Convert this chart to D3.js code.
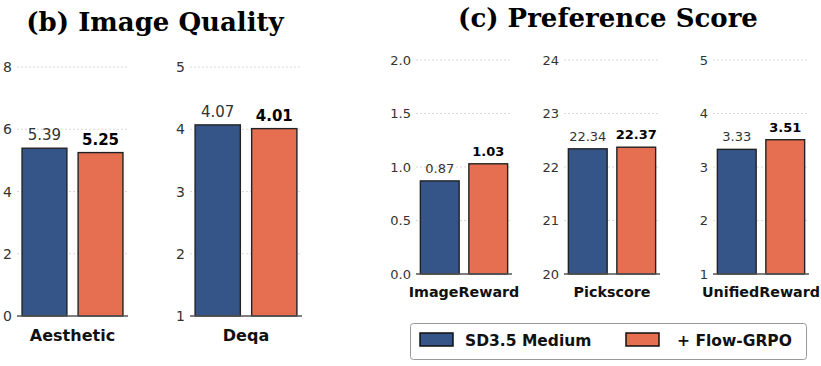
<!DOCTYPE html>
<html><head><meta charset="utf-8">
<script src="https://cdn.jsdelivr.net/npm/d3@7"></script>
<style>body{margin:0;background:#fff}svg{display:block}</style>
</head><body>
<svg id="c" width="821" height="366"></svg>
<script>
// ---- data ----
const categories = ["Aesthetic", "Deqa", "ImageReward", "Pickscore", "UnifiedReward"];
const seriesNames = ["SD3.5 Medium", "+ Flow-GRPO"];
const sd35Values = [5.39, 4.07, 0.87, 22.34, 3.33];
const flowValues = [5.25, 4.01, 1.03, 22.37, 3.51];
const yDomains = [[0, 8], [1, 5], [0, 2], [20, 24], [1, 5]];
const yTicks = [[0, 2, 4, 6, 8], [1, 2, 3, 4, 5], [0, 0.5, 1, 1.5, 2], [20, 21, 22, 23, 24], [1, 2, 3, 4, 5]];
const tickFormats = ["d", "d", ".1f", "d", "d"];
const groupTitles = ["(b) Image Quality", "(c) Preference Score"];

// ---- layout ----
const colors = ["#355488", "#e76f51"];
const layout = [
  {x0: 17, x1: 128, top: 67, bot: 316, fs: 15, cfs: 16, tfs: 14},
  {x0: 190, x1: 302, top: 67, bot: 316, fs: 15, cfs: 16, tfs: 14},
  {x0: 416, x1: 512, top: 60, bot: 274, fs: 13, cfs: 14.3, tfs: 13},
  {x0: 564, x1: 660, top: 60, bot: 274, fs: 13, cfs: 14.3, tfs: 13},
  {x0: 713, x1: 809, top: 60, bot: 274, fs: 13, cfs: 14.3, tfs: 13}
];
const titleLayout = [{cx: 155, y: 31}, {cx: 608, y: 27}];

const svg = d3.select("#c");
const sans = "DejaVu Sans, sans-serif";

categories.forEach((cat, i) => {
  const L = layout[i];
  const g = svg.append("g");
  const y = d3.scaleLinear().domain(yDomains[i]).range([L.bot, L.top]);
  const x = d3.scaleBand().domain(seriesNames).range([L.x0, L.x1]).paddingInner(0.2).paddingOuter(0.09);
  const fmt = d3.format(tickFormats[i]);

  // grid
  g.selectAll(".grid").data(yTicks[i].slice(1)).join("line")
    .attr("x1", L.x0).attr("x2", L.x1)
    .attr("y1", d => y(d)).attr("y2", d => y(d))
    .attr("stroke", "#cfcfcf").attr("stroke-width", 0.8).attr("stroke-dasharray", "2,2");

  // tick labels
  g.selectAll(".tl").data(yTicks[i]).join("text")
    .attr("x", L.x0 - 5).attr("y", d => y(d)).attr("dy", "0.36em")
    .attr("text-anchor", "end").attr("font-family", sans).attr("font-size", L.tfs)
    .attr("fill", "#333").text(d => fmt(d));

  const vals = [sd35Values[i], flowValues[i]];
  // bars
  g.selectAll(".bar").data(vals).join("rect")
    .attr("x", (d, j) => x(seriesNames[j]))
    .attr("width", x.bandwidth())
    .attr("y", d => y(d))
    .attr("height", d => y(yDomains[i][0]) - y(d))
    .attr("fill", (d, j) => colors[j])
    .attr("stroke", "#222").attr("stroke-width", 1.4);

  // value labels
  g.selectAll(".vl").data(vals).join("text")
    .attr("x", (d, j) => x(seriesNames[j]) + x.bandwidth() / 2)
    .attr("y", d => y(d) - 8)
    .attr("text-anchor", "middle").attr("font-family", sans).attr("font-size", L.fs)
    .attr("font-weight", (d, j) => j === 1 ? "bold" : "normal")
    .attr("fill", (d, j) => j === 1 ? "#000" : "#333")
    .text(d => d.toFixed(2));

  // bottom axis line
  g.append("line").attr("x1", L.x0).attr("x2", L.x1)
    .attr("y1", L.bot).attr("y2", L.bot)
    .attr("stroke", "#555").attr("stroke-width", 1.5);

  // category label
  g.append("text").attr("x", (L.x0 + L.x1) / 2).attr("y", L.bot + (i < 2 ? 25 : 23))
    .attr("text-anchor", "middle").attr("font-family", sans).attr("font-weight", "bold")
    .attr("font-size", L.cfs).attr("fill", "#111").text(cat);
});

// titles
groupTitles.forEach((t, k) => {
  svg.append("text").attr("x", titleLayout[k].cx).attr("y", titleLayout[k].y)
    .attr("text-anchor", "middle").attr("font-family", "DejaVu Serif, serif")
    .attr("font-weight", "bold").attr("font-size", 26).attr("fill", "#000").text(t);
});

// legend
const lg = svg.append("g");
lg.append("rect").attr("x", 410.5).attr("y", 323.5).attr("width", 396).attr("height", 36)
  .attr("rx", 3).attr("fill", "#fff").attr("stroke", "#999").attr("stroke-width", 1);
const legX = [420, 626];
const legTX = [465, 677];
seriesNames.forEach((s, j) => {
  lg.append("rect").attr("x", legX[j]).attr("y", 333).attr("width", 33).attr("height", 13)
    .attr("fill", colors[j]).attr("stroke", "#111").attr("stroke-width", 1.5);
  lg.append("text").attr("x", legTX[j]).attr("y", 340).attr("dy", "0.36em")
    .attr("font-family", sans).attr("font-weight", "bold").attr("font-size", 15.5)
    .attr("fill", "#111").text(s);
});
</script>
</body></html>
